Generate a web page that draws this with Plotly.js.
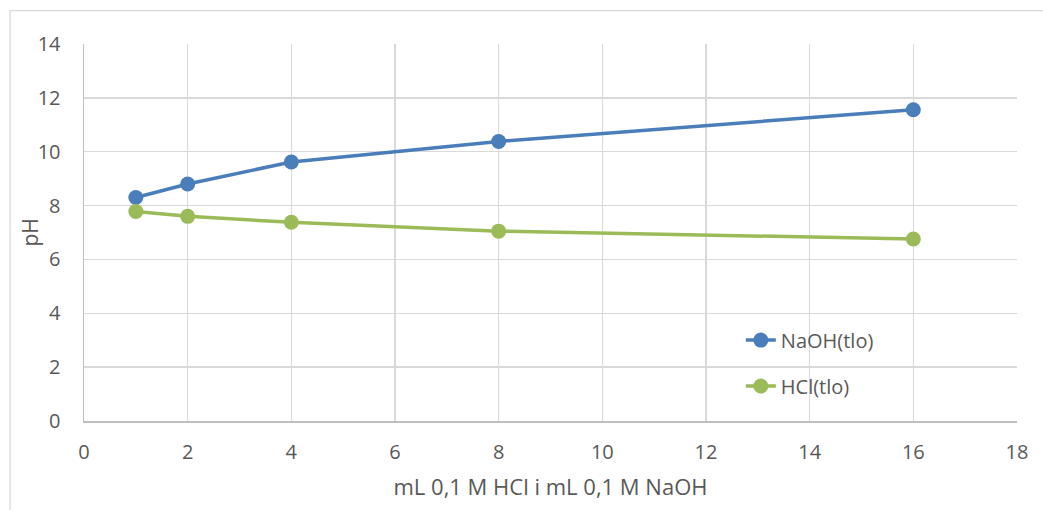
<!DOCTYPE html>
<html>
<head>
<meta charset="utf-8">
<script src="https://cdn.plot.ly/plotly-3.0.1.min.js"></script>
<style>html,body{margin:0;padding:0;background:#fff;}#chart{width:1043px;height:510px;}</style>
</head>
<body>
<div id="chart"></div>
<script>
const xValues = [1, 2, 4, 8, 16];
const naohPH = [8.3, 8.8, 9.62, 10.38, 11.56];
const hclPH = [7.78, 7.6, 7.38, 7.05, 6.76];
const seriesNames = ["NaOH(tlo)", "HCl(tlo)"];
const xTicks = [0, 2, 4, 6, 8, 10, 12, 14, 16, 18];
const yTicks = [0, 2, 4, 6, 8, 10, 12, 14];
const xTitle = "mL 0,1 M HCl i mL 0,1 M NaOH";
const yTitle = "pH";

const fontFam = "Open Sans, Noto Sans, sans-serif";
const txtColor = "#595959";
const fs = 20;

const traces = [
  {x: xValues, y: naohPH, name: seriesNames[0], type: "scatter", mode: "lines+markers",
   line: {color: "#4a7ebb", width: 3.5}, marker: {color: "#4a7ebb", size: 15}, legend: "legend"},
  {x: xValues, y: hclPH, name: seriesNames[1], type: "scatter", mode: "lines+markers",
   line: {color: "#9bbb59", width: 3.5}, marker: {color: "#9bbb59", size: 15}, legend: "legend2"}
];

const layout = {
  width: 1043, height: 510,
  margin: {l: 84, r: 26, t: 43.5, b: 89},
  paper_bgcolor: "#ffffff", plot_bgcolor: "#ffffff",
  font: {family: fontFam, size: fs, color: txtColor},
  xaxis: {
    range: [0, 18], tickvals: xTicks, ticktext: xTicks.map(String),
    showgrid: true, gridcolor: "#d9d9d9", gridwidth: 1.5,
    showline: true, linecolor: "#bfbfbf", linewidth: 1.5, mirror: false,
    zeroline: false, ticks: "outside", ticklen: 12, tickcolor: "rgba(0,0,0,0)",
    tickfont: {family: fontFam, size: fs, color: txtColor},
    title: {text: xTitle, font: {family: fontFam, size: 22, color: txtColor}, standoff: 16}
  },
  yaxis: {
    range: [0, 14], tickvals: yTicks, ticktext: yTicks.map(String),
    showgrid: true, gridcolor: "#d9d9d9", gridwidth: 1.5,
    showline: true, linecolor: "#bfbfbf", linewidth: 1.5,
    zeroline: false, ticks: "outside", ticklen: 18, tickcolor: "rgba(0,0,0,0)",
    tickfont: {family: fontFam, size: fs, color: txtColor}
  },
  annotations: [
    {text: yTitle, xref: "paper", yref: "paper", x: -0.0579, y: 0.5, xanchor: "center", yanchor: "middle",
     textangle: -90, showarrow: false, font: {family: fontFam, size: 21, color: txtColor}}
  ],
  showlegend: true,
  legend: {x: 0.704, y: 0.2146, xanchor: "left", yanchor: "middle", bgcolor: "rgba(0,0,0,0)",
           font: {family: fontFam, size: fs, color: txtColor}},
  legend2: {x: 0.704, y: 0.0927, xanchor: "left", yanchor: "middle", bgcolor: "rgba(0,0,0,0)",
            font: {family: fontFam, size: fs, color: txtColor}},
  shapes: [
    {type: "line", xref: "paper", yref: "paper", x0: -0.0793, x1: 1.1, y0: 1.0887, y1: 1.0887,
     line: {color: "#d9d9d9", width: 1.3}},
    {type: "line", xref: "paper", yref: "paper", x0: -0.0793, x1: -0.0793, y0: -0.3, y1: 1.0887,
     line: {color: "#d9d9d9", width: 1.3}}
  ]
};

Plotly.newPlot("chart", traces, layout, {displayModeBar: false, staticPlot: true});
</script>
</body>
</html>
